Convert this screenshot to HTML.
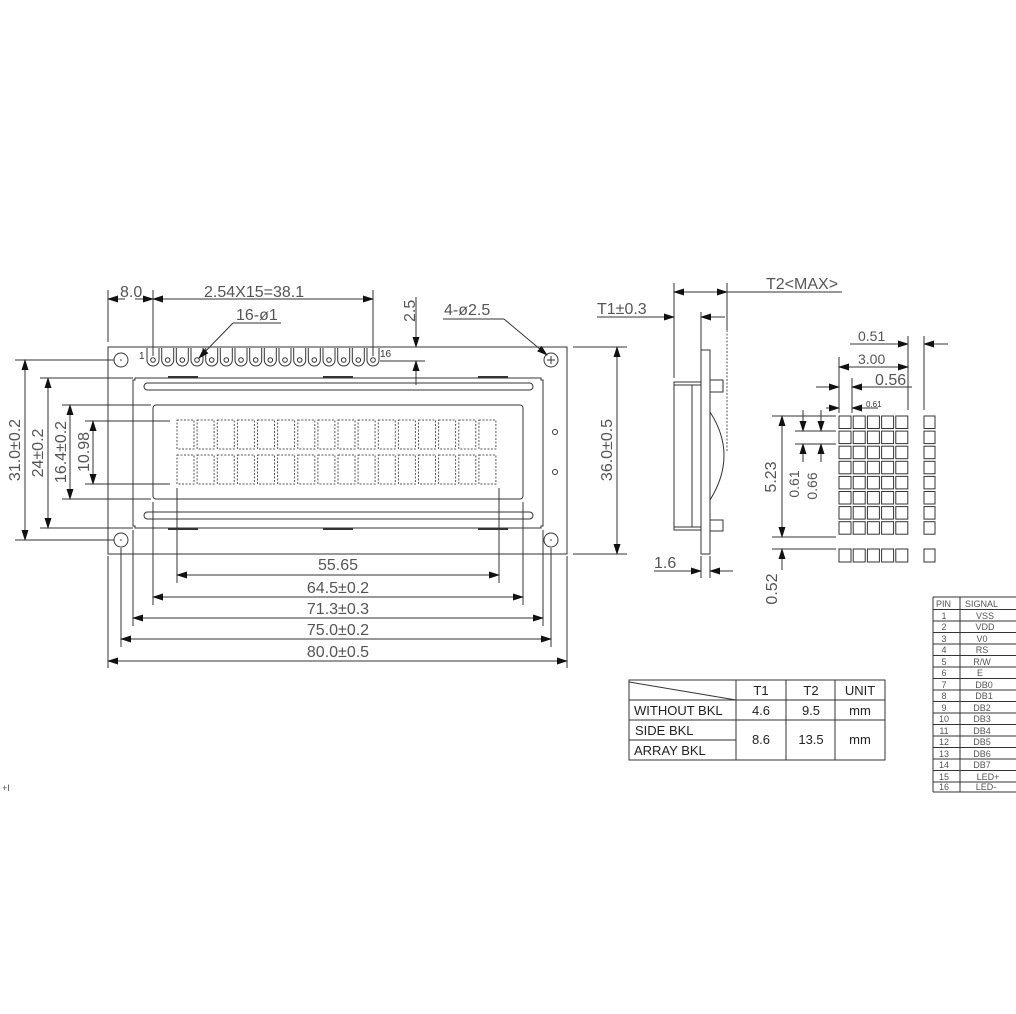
<!DOCTYPE html>
<html><head><meta charset="utf-8"><style>
html,body{margin:0;padding:0;background:#fff;}
svg{display:block;}
.l{stroke:#333;stroke-width:1;fill:none;}
.d{stroke:#333;stroke-width:1;fill:none;marker-start:url(#a);marker-end:url(#a);}
.e{stroke:#333;stroke-width:1;fill:none;marker-end:url(#a);}
.c{stroke:#555;stroke-width:1;fill:none;stroke-dasharray:2,1.5;}
text{font-family:"Liberation Sans",sans-serif;fill:#555;}
.t{font-size:16px;}
.s{font-size:13px;fill:#222;}
.p{font-size:9px;fill:#222;}
</style></head><body>
<svg width="1016" height="1014" viewBox="0 0 1016 1014" xmlns="http://www.w3.org/2000/svg">
<defs><marker id="a" markerWidth="11" markerHeight="7" refX="10" refY="3.5" orient="auto-start-reverse" markerUnits="userSpaceOnUse"><path d="M0,0 L11,3.5 L0,7 z" fill="#111"/></marker></defs>

<!-- main PCB -->
<rect class="l" x="108" y="347" width="459" height="207"/>
<circle class="l" cx="121" cy="360" r="7"/><circle cx="121" cy="360" r="0.8" fill="#333"/>
<circle class="l" cx="551" cy="360" r="7"/><path class="l" d="M547,360h8M551,356v8"/>
<circle class="l" cx="121" cy="540" r="7"/><circle cx="121" cy="540" r="0.8" fill="#333"/>
<circle class="l" cx="551" cy="540" r="7"/><circle cx="551" cy="540" r="0.8" fill="#333"/>
<circle class="l" cx="555" cy="432" r="2.5"/><circle class="l" cx="555" cy="472" r="2.5"/>
<text x="139" y="359" style="font-size:10px;fill:#333">1</text>
<text x="380" y="357" style="font-size:10px;fill:#333">16</text>
<g id="pins">
<path class="l" d="M147,348V360A6,6 0 0 0 159,360V348"/><circle class="l" cx="153" cy="360" r="2.3"/>
</g>
<g>
<path class="l" d="M161.7,348V360A6,6 0 0 0 173.7,360V348M176.3,348V360A6,6 0 0 0 188.3,360V348M191,348V360A6,6 0 0 0 203,360V348M205.7,348V360A6,6 0 0 0 217.7,360V348M220.3,348V360A6,6 0 0 0 232.3,360V348M235,348V360A6,6 0 0 0 247,360V348M249.7,348V360A6,6 0 0 0 261.7,360V348M264.3,348V360A6,6 0 0 0 276.3,360V348M279,348V360A6,6 0 0 0 291,360V348M293.7,348V360A6,6 0 0 0 305.7,360V348M308.3,348V360A6,6 0 0 0 320.3,360V348M323,348V360A6,6 0 0 0 335,360V348M337.7,348V360A6,6 0 0 0 349.7,360V348M352.3,348V360A6,6 0 0 0 364.3,360V348M367,348V360A6,6 0 0 0 379,360V348"/>
<circle class="l" cx="167.7" cy="360" r="2.3"/><circle class="l" cx="182.3" cy="360" r="2.3"/><circle class="l" cx="197" cy="360" r="2.3"/><circle class="l" cx="211.7" cy="360" r="2.3"/><circle class="l" cx="226.3" cy="360" r="2.3"/><circle class="l" cx="241" cy="360" r="2.3"/><circle class="l" cx="255.7" cy="360" r="2.3"/><circle class="l" cx="270.3" cy="360" r="2.3"/><circle class="l" cx="285" cy="360" r="2.3"/><circle class="l" cx="299.7" cy="360" r="2.3"/><circle class="l" cx="314.3" cy="360" r="2.3"/><circle class="l" cx="329" cy="360" r="2.3"/><circle class="l" cx="343.7" cy="360" r="2.3"/><circle class="l" cx="358.3" cy="360" r="2.3"/><circle class="l" cx="373" cy="360" r="2.3"/>
</g>
<!-- bezel -->
<path class="l" d="M135,378H541V380H543V526H541V528H135V526H133V380H135Z"/>
<path class="l" d="M168,377H198M323,377H353M478,377H508M168,529H198M323,529H353M478,529H508" style="stroke-width:2"/>
<rect class="l" x="144" y="383" width="389" height="7" rx="3.5"/>
<rect class="l" x="144" y="512" width="389" height="7" rx="3.5"/>
<rect class="l" x="153" y="405" width="370" height="94" rx="3"/>
<!-- cells -->
<g class="c">
<rect x="177" y="420" width="17" height="29"/><rect x="197.1" y="420" width="17" height="29"/><rect x="217.3" y="420" width="17" height="29"/><rect x="237.4" y="420" width="17" height="29"/><rect x="257.5" y="420" width="17" height="29"/><rect x="277.6" y="420" width="17" height="29"/><rect x="297.8" y="420" width="17" height="29"/><rect x="317.9" y="420" width="17" height="29"/><rect x="338" y="420" width="17" height="29"/><rect x="358.1" y="420" width="17" height="29"/><rect x="378.3" y="420" width="17" height="29"/><rect x="398.4" y="420" width="17" height="29"/><rect x="418.5" y="420" width="17" height="29"/><rect x="438.6" y="420" width="17" height="29"/><rect x="458.8" y="420" width="17" height="29"/><rect x="478.9" y="420" width="17" height="29"/>
<rect x="177" y="455" width="17" height="29"/><rect x="197.1" y="455" width="17" height="29"/><rect x="217.3" y="455" width="17" height="29"/><rect x="237.4" y="455" width="17" height="29"/><rect x="257.5" y="455" width="17" height="29"/><rect x="277.6" y="455" width="17" height="29"/><rect x="297.8" y="455" width="17" height="29"/><rect x="317.9" y="455" width="17" height="29"/><rect x="338" y="455" width="17" height="29"/><rect x="358.1" y="455" width="17" height="29"/><rect x="378.3" y="455" width="17" height="29"/><rect x="398.4" y="455" width="17" height="29"/><rect x="418.5" y="455" width="17" height="29"/><rect x="438.6" y="455" width="17" height="29"/><rect x="458.8" y="455" width="17" height="29"/><rect x="478.9" y="455" width="17" height="29"/>
</g>

<!-- top dims -->
<path class="l" d="M108,290V342M153,290V356M373,290V356"/>
<line class="e" x1="125" y1="299" x2="108" y2="299"/>
<line class="e" x1="135" y1="299" x2="153" y2="299"/>
<line class="d" x1="153" y1="299" x2="373" y2="299"/>
<text class="t" x="120" y="297">8.0</text>
<text class="t" x="204" y="297">2.54X15=38.1</text>
<text class="t" x="236" y="320">16-ø1</text>
<path class="l" d="M233,323H281"/><line class="e" x1="233" y1="323" x2="199" y2="358"/>
<text class="t" transform="translate(415,322) rotate(-90)">2.5</text>
<line class="e" x1="416" y1="297" x2="416" y2="347"/>
<path class="l" d="M400,347H438M380,361H425"/>
<line class="e" x1="416" y1="385" x2="416" y2="361"/>
<text class="t" x="444" y="315">4-ø2.5</text>
<path class="l" d="M443,319H504"/><line class="e" x1="504" y1="319" x2="547" y2="355"/>
<!-- right dim -->
<path class="l" d="M573,347H627M573,554H627"/>
<line class="d" x1="617" y1="347" x2="617" y2="554"/>
<text class="t" transform="translate(612,450) rotate(-90)" text-anchor="middle">36.0±0.5</text>
<!-- left dims -->
<path class="l" d="M15,360H114M15,540H114M40,378H133M40,528H133M62,405H151M62,499H151M85,421H170M85,484H170"/>
<line class="d" x1="25" y1="360" x2="25" y2="540"/>
<line class="d" x1="48" y1="378" x2="48" y2="528"/>
<line class="d" x1="70" y1="405" x2="70" y2="499"/>
<line class="d" x1="93" y1="421" x2="93" y2="484"/>
<text class="t" transform="translate(20,450) rotate(-90)" text-anchor="middle">31.0±0.2</text>
<text class="t" transform="translate(43,453) rotate(-90)" text-anchor="middle">24±0.2</text>
<text class="t" transform="translate(66,452) rotate(-90)" text-anchor="middle">16.4±0.2</text>
<text class="t" transform="translate(89,452) rotate(-90)" text-anchor="middle">10.98</text>
<!-- bottom dims -->
<path class="l" d="M177,488V583M499,488V583M153,502V605M523,502V605M133,530V626M543,530V626M121,548V647M551,548V647M108,556V668M567,556V668"/>
<line class="d" x1="177" y1="575" x2="499" y2="575"/>
<line class="d" x1="153" y1="597" x2="523" y2="597"/>
<line class="d" x1="133" y1="618" x2="543" y2="618"/>
<line class="d" x1="121" y1="639" x2="551" y2="639"/>
<line class="d" x1="108" y1="661" x2="567" y2="661"/>
<text class="t" x="338" y="570" text-anchor="middle">55.65</text>
<text class="t" x="338" y="593" text-anchor="middle">64.5±0.2</text>
<text class="t" x="338" y="614" text-anchor="middle">71.3±0.3</text>
<text class="t" x="338" y="635" text-anchor="middle">75.0±0.2</text>
<text class="t" x="338" y="657" text-anchor="middle">80.0±0.5</text>

<!-- side view -->
<path class="l" d="M674,283V378M727,283V330"/>
<path class="c" d="M727,330V452"/>
<line class="d" x1="674" y1="292" x2="727" y2="292"/>
<path class="l" d="M727,292H842"/>
<text class="t" x="766" y="289">T2&lt;MAX&gt;</text>
<text class="t" x="597" y="314">T1±0.3</text>
<line class="e" x1="597" y1="317" x2="674" y2="317"/>
<line class="e" x1="725" y1="317" x2="701" y2="317"/>
<path class="l" d="M701,312V350"/>
<rect class="l" x="701" y="350" width="9" height="204"/>
<rect class="l" x="674" y="382" width="27" height="148"/>
<path class="l" d="M692,385V527M674,385H701M674,527H701"/>
<rect class="l" x="710" y="380" width="13" height="12"/>
<rect class="l" x="710" y="520" width="13" height="11"/>
<path class="l" d="M710,412Q738,455 710,500"/>
<path class="l" d="M701,556V578M710,556V578"/>
<text class="t" x="654" y="568">1.6</text>
<line class="e" x1="654" y1="571" x2="701" y2="571"/>
<line class="e" x1="733" y1="571" x2="710" y2="571"/>

<!-- char matrix -->
<g class="l">
<rect x="839" y="416" width="12" height="12.5"/><rect x="853.2" y="416" width="12" height="12.5"/><rect x="867.4" y="416" width="12" height="12.5"/><rect x="881.6" y="416" width="12" height="12.5"/><rect x="895.8" y="416" width="12" height="12.5"/><rect x="924" y="416" width="11" height="12.5"/>
<rect x="839" y="431.1" width="12" height="12.5"/><rect x="853.2" y="431.1" width="12" height="12.5"/><rect x="867.4" y="431.1" width="12" height="12.5"/><rect x="881.6" y="431.1" width="12" height="12.5"/><rect x="895.8" y="431.1" width="12" height="12.5"/><rect x="924" y="431.1" width="11" height="12.5"/>
<rect x="839" y="446.2" width="12" height="12.5"/><rect x="853.2" y="446.2" width="12" height="12.5"/><rect x="867.4" y="446.2" width="12" height="12.5"/><rect x="881.6" y="446.2" width="12" height="12.5"/><rect x="895.8" y="446.2" width="12" height="12.5"/><rect x="924" y="446.2" width="11" height="12.5"/>
<rect x="839" y="461.3" width="12" height="12.5"/><rect x="853.2" y="461.3" width="12" height="12.5"/><rect x="867.4" y="461.3" width="12" height="12.5"/><rect x="881.6" y="461.3" width="12" height="12.5"/><rect x="895.8" y="461.3" width="12" height="12.5"/><rect x="924" y="461.3" width="11" height="12.5"/>
<rect x="839" y="476.4" width="12" height="12.5"/><rect x="853.2" y="476.4" width="12" height="12.5"/><rect x="867.4" y="476.4" width="12" height="12.5"/><rect x="881.6" y="476.4" width="12" height="12.5"/><rect x="895.8" y="476.4" width="12" height="12.5"/><rect x="924" y="476.4" width="11" height="12.5"/>
<rect x="839" y="491.5" width="12" height="12.5"/><rect x="853.2" y="491.5" width="12" height="12.5"/><rect x="867.4" y="491.5" width="12" height="12.5"/><rect x="881.6" y="491.5" width="12" height="12.5"/><rect x="895.8" y="491.5" width="12" height="12.5"/><rect x="924" y="491.5" width="11" height="12.5"/>
<rect x="839" y="506.6" width="12" height="12.5"/><rect x="853.2" y="506.6" width="12" height="12.5"/><rect x="867.4" y="506.6" width="12" height="12.5"/><rect x="881.6" y="506.6" width="12" height="12.5"/><rect x="895.8" y="506.6" width="12" height="12.5"/><rect x="924" y="506.6" width="11" height="12.5"/>
<rect x="839" y="521.7" width="12" height="12.5"/><rect x="853.2" y="521.7" width="12" height="12.5"/><rect x="867.4" y="521.7" width="12" height="12.5"/><rect x="881.6" y="521.7" width="12" height="12.5"/><rect x="895.8" y="521.7" width="12" height="12.5"/><rect x="924" y="521.7" width="11" height="12.5"/>
<rect x="839" y="549" width="12" height="13"/><rect x="853.2" y="549" width="12" height="13"/><rect x="867.4" y="549" width="12" height="13"/><rect x="881.6" y="549" width="12" height="13"/><rect x="895.8" y="549" width="12" height="13"/><rect x="924" y="549" width="11" height="13"/>
</g>
<path class="l" d="M908,336V410M924,336V410M839,357V413M852,378V413"/>
<text class="t" x="858" y="341" style="font-size:14px">0.51</text>
<line class="e" x1="850" y1="344" x2="908" y2="344"/>
<line class="e" x1="948" y1="344" x2="924" y2="344"/>
<text class="t" x="858" y="364" style="font-size:14px">3.00</text>
<line class="d" x1="839" y1="367" x2="908" y2="367"/>
<text class="t" x="875" y="385">0.56</text>
<line class="e" x1="816" y1="387" x2="839" y2="387"/>
<line class="e" x1="912" y1="387" x2="852" y2="387"/>
<text x="866" y="407" style="font-size:8px;fill:#333">0.61</text>
<line class="e" x1="826" y1="408" x2="839" y2="408"/>
<line class="e" x1="878" y1="408" x2="852" y2="408"/>
<path class="l" d="M772,416H836M772,537H836M795,431H836M795,444H836M772,549H836"/>
<line class="d" x1="782" y1="416" x2="782" y2="537"/>
<text class="t" transform="translate(776,477) rotate(-90)" text-anchor="middle">5.23</text>
<line class="e" x1="803" y1="410" x2="803" y2="431"/>
<line class="e" x1="803" y1="462" x2="803" y2="444"/>
<line class="e" x1="821" y1="410" x2="821" y2="431"/>
<line class="e" x1="821" y1="462" x2="821" y2="444"/>
<text class="t" transform="translate(799,484) rotate(-90)" text-anchor="middle" style="font-size:14px">0.61</text>
<text class="t" transform="translate(817,486) rotate(-90)" text-anchor="middle" style="font-size:14px">0.66</text>
<line class="e" x1="782" y1="570" x2="782" y2="549"/>
<text class="t" transform="translate(777,589) rotate(-90)" text-anchor="middle">0.52</text>

<!-- T table -->
<g class="l">
<rect x="629" y="680" width="256" height="80"/>
<path d="M736,680V760M786,680V760M835,680V760M629,700H885M629,720H885M629,740H736M629,682L736,700"/>
</g>
<text class="s" x="761" y="695" text-anchor="middle">T1</text>
<text class="s" x="811" y="695" text-anchor="middle">T2</text>
<text class="s" x="860" y="695" text-anchor="middle">UNIT</text>
<text class="s" x="634" y="715">WITHOUT BKL</text>
<text class="s" x="761" y="715" text-anchor="middle">4.6</text>
<text class="s" x="811" y="715" text-anchor="middle">9.5</text>
<text class="s" x="860" y="715" text-anchor="middle">mm</text>
<text class="s" x="635" y="735">SIDE BKL</text>
<text class="s" x="634" y="755">ARRAY BKL</text>
<text class="s" x="761" y="744" text-anchor="middle">8.6</text>
<text class="s" x="811" y="744" text-anchor="middle">13.5</text>
<text class="s" x="860" y="744" text-anchor="middle">mm</text>

<!-- pin table -->
<g class="l">
<path d="M933,597V792M933,597H1016M960,597V792M933,609.5H1016M933,621H1016M933,632.5H1016M933,644H1016M933,655.5H1016M933,667H1016M933,678.5H1016M933,690H1016M933,701.5H1016M933,713H1016M933,724.5H1016M933,736H1016M933,747.5H1016M933,759H1016M933,770.5H1016M933,782H1016M933,792H1016"/>
</g>
<g class="p">
<text x="936" y="607">PIN</text><text x="965" y="607">SIGNAL</text>
<text x="944" y="619" text-anchor="middle">1</text><text x="985" y="619" text-anchor="middle">VSS</text>
<text x="944" y="630" text-anchor="middle">2</text><text x="985" y="630" text-anchor="middle">VDD</text>
<text x="944" y="642" text-anchor="middle">3</text><text x="982" y="642" text-anchor="middle">V0</text>
<text x="944" y="653" text-anchor="middle">4</text><text x="982" y="653" text-anchor="middle">RS</text>
<text x="944" y="665" text-anchor="middle">5</text><text x="982" y="665" text-anchor="middle">R/W</text>
<text x="944" y="676" text-anchor="middle">6</text><text x="980" y="676" text-anchor="middle">E</text>
<text x="944" y="688" text-anchor="middle">7</text><text x="984" y="688" text-anchor="middle">DB0</text>
<text x="944" y="699" text-anchor="middle">8</text><text x="984" y="699" text-anchor="middle">DB1</text>
<text x="944" y="711" text-anchor="middle">9</text><text x="982" y="711" text-anchor="middle">DB2</text>
<text x="944" y="722" text-anchor="middle">10</text><text x="982" y="722" text-anchor="middle">DB3</text>
<text x="944" y="734" text-anchor="middle">11</text><text x="982" y="734" text-anchor="middle">DB4</text>
<text x="944" y="745" text-anchor="middle">12</text><text x="982" y="745" text-anchor="middle">DB5</text>
<text x="944" y="757" text-anchor="middle">13</text><text x="982" y="757" text-anchor="middle">DB6</text>
<text x="944" y="768" text-anchor="middle">14</text><text x="982" y="768" text-anchor="middle">DB7</text>
<text x="944" y="780" text-anchor="middle">15</text><text x="988" y="780" text-anchor="middle">LED+</text>
<text x="944" y="790" text-anchor="middle">16</text><text x="986" y="790" text-anchor="middle">LED-</text>
</g>
<text x="2" y="791" style="font-size:9px;fill:#555">+I</text>
</svg>
</body></html>
